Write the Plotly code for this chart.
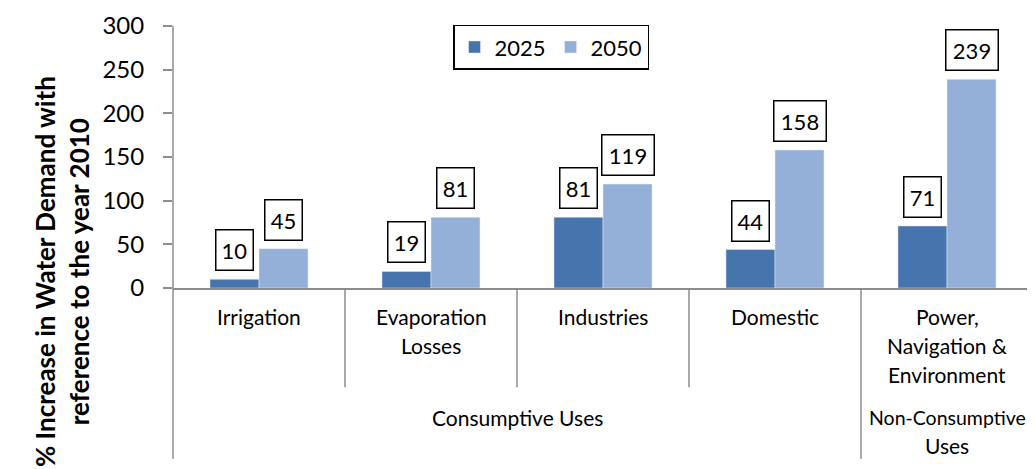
import plotly.graph_objects as go

categories = ["Irrigation", "Evaporation Losses", "Industries", "Domestic",
              "Power, Navigation & Environment"]
category_labels = ["Irrigation", "Evaporation<br>Losses", "Industries", "Domestic",
                   "Power,<br>Navigation &<br>Environment"]
groups = ["Consumptive Uses", "Non-Consumptive<br>Uses"]
group_spans = [(0, 4), (4, 5)]  # [start, end) category index
values_2025 = [10, 19, 81, 44, 71]
values_2050 = [45, 81, 119, 158, 239]
y_ticks = [0, 50, 100, 150, 200, 250, 300]

OFF = 8  # page body margin in the browser
W, H = 1035 - OFF, 469 - OFF
L, R, T, B = 173 - OFF, 2, 24 - OFF, 181
plot_h = H - T - B
plot_w = W - L - R
FONT = "Lato"
C25 = "#4674AC"
C50 = "#95B0D8"
AX = "#8C8C8C"


def py(p):
    """screen pixel y -> paper y"""
    return (H - B - (p - OFF)) / plot_h


def px(p):
    return (p - OFF - L) / plot_w


fig = go.Figure()
fig.add_trace(go.Bar(x=categories, y=values_2025, name="2025", marker_color=C25))
fig.add_trace(go.Bar(x=categories, y=values_2050, name="2050", marker_color=C50))

n = len(categories)
bargap = 0.43
bar_w_px = plot_w / n * (1 - bargap) / 2

annotations = []
for i, c in enumerate(categories):
    for v, sh in ((values_2025[i], -bar_w_px / 2), (values_2050[i], bar_w_px / 2)):
        txt = str(v)
        annotations.append(dict(
            x=c, y=v, xref="x", yref="y", text=txt, showarrow=False,
            xshift=sh, yshift=8, yanchor="bottom", xanchor="center",
            width=15 * len(txt), height=33,
            font=dict(family=FONT, size=22, color="black"),
            bgcolor="white", bordercolor="black", borderwidth=1.5, borderpad=3))

LINE_H = 29
cat_w = 1.0 / n
# level-1 category labels (one annotation per text line for exact spacing)
for i, lab in enumerate(category_labels):
    for k, part in enumerate(lab.split("<br>")):
        annotations.append(dict(
            x=(i + 0.5) * cat_w, y=py(317 + k * LINE_H), xref="paper", yref="paper",
            text=part, showarrow=False, yanchor="middle", xanchor="center",
            font=dict(family=FONT, size=21, color="black")))
# level-2 group labels
for g, (s, e) in zip(groups, group_spans):
    for k, part in enumerate(g.split("<br>")):
        annotations.append(dict(
            x=(s + e) / 2 * cat_w, y=py(418 + k * LINE_H), xref="paper", yref="paper",
            text=part, showarrow=False, yanchor="middle", xanchor="center",
            font=dict(family=FONT, size=19.5 if part.startswith("Non") else 21,
                      color="black")))

# y-axis title
annotations.append(dict(
    x=px(62), y=py(272), xref="paper", yref="paper",
    text="% Increase in Water Demand with<br>reference to the year 2010",
    showarrow=False, textangle=-90, xanchor="center", yanchor="middle",
    font=dict(family=FONT, size=26, color="black", weight="bold")))

shapes = []
line = dict(color=AX, width=1.5)
# y axis extended
shapes.append(dict(type="line", xref="paper", yref="paper", x0=0, x1=0,
                   y0=py(460), y1=1, line=line))
# category dividers
for i in range(1, n):
    bottom = 460 if any(s == i for s, e in group_spans) else 388
    shapes.append(dict(type="line", xref="paper", yref="paper",
                       x0=i * cat_w, x1=i * cat_w, y0=0, y1=py(bottom), line=line))
shapes.append(dict(type="line", xref="paper", yref="paper", x0=1, x1=1,
                   y0=0, y1=py(460), line=line))

fig.update_layout(
    width=W, height=H,
    margin=dict(l=L, r=R, t=T, b=B),
    paper_bgcolor="white", plot_bgcolor="white",
    barmode="group", bargap=bargap, bargroupgap=0,
    font=dict(family=FONT, color="black"),
    showlegend=True,
    legend=dict(orientation="h", x=px(551), xanchor="center", y=1.005, yanchor="top",
                bordercolor="black", borderwidth=1.5, bgcolor="white",
                font=dict(family=FONT, size=22, color="black"),
                itemwidth=30, traceorder="normal"),
    xaxis=dict(showticklabels=False, ticks="", showline=True, linecolor=AX,
               linewidth=1.5, showgrid=False, fixedrange=True),
    yaxis=dict(range=[0, 300], tickvals=y_ticks, showgrid=False, zeroline=False,
               showline=False, ticks="outside", ticklen=9, tickcolor=AX,
               tickwidth=1.5, tickfont=dict(family=FONT, size=24, color="black"),
               ticklabelstandoff=14, fixedrange=True),
    annotations=annotations,
    shapes=shapes,
)

fig.write_html("out.html")
